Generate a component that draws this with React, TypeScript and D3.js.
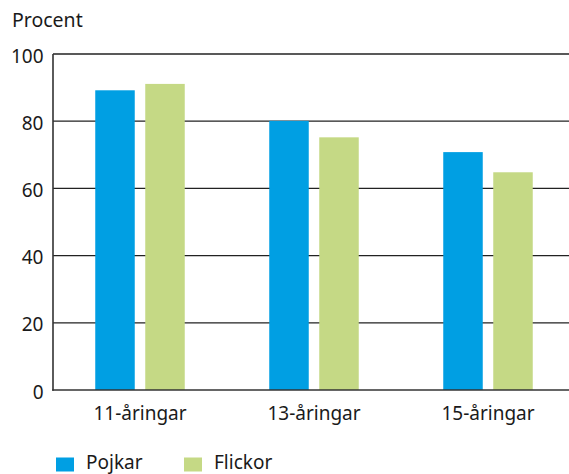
import React from "react";
import * as d3 from "d3";

const categories = ["11-åringar", "13-åringar", "15-åringar"];
const seriesNames = ["Pojkar", "Flickor"];
const pojkar = [89.2, 80.1, 70.8];
const flickor = [91.1, 75.2, 64.8];
const yTicks = [0, 20, 40, 60, 80, 100];
const yLabel = "Procent";

const colors = ["#009FE3", "#C5D985"];
const W = 569;
const H = 474;
const FONT = "'Noto Sans', Roboto, sans-serif";

export default function App() {
  const x = d3.scaleBand<string>().domain(categories).range([53, 575]).padding(0);
  const inner = d3
    .scaleBand<string>()
    .domain(seriesNames)
    .range([-44.75, 44.75])
    .paddingInner(0.21)
    .paddingOuter(0);
  const y = d3.scaleLinear().domain([0, 100]).range([390, 54]);
  const values = [pojkar, flickor];

  return (
    <svg
      width={W}
      height={H}
      style={{ position: "absolute", left: 0, top: 0 }}
      fontFamily={FONT}
    >
      <text x={12} y={27} fontSize={19.5} fill="#1a1a1a">
        {yLabel}
      </text>
      {yTicks.map((t) => (
        <g key={t}>
          {t > 0 && (
            <line x1={53} x2={W} y1={y(t)} y2={y(t)} stroke="#222" strokeWidth={1.3} />
          )}
          <text
            x={43.5}
            y={y(t) + 8.5}
            textAnchor="end"
            fontSize={19}
            fill="#1a1a1a"
          >
            {t}
          </text>
        </g>
      ))}
      {categories.map((c, i) => {
        const cx = (x(c) as number) + x.bandwidth() / 2;
        return (
          <g key={c}>
            {seriesNames.map((s, j) => (
              <rect
                key={s}
                x={cx + (inner(s) as number)}
                width={inner.bandwidth()}
                y={y(values[j][i])}
                height={y(0) - y(values[j][i])}
                fill={colors[j]}
              />
            ))}
            <text x={cx} y={420} textAnchor="middle" fontSize={19} fill="#1a1a1a">
              {c}
            </text>
          </g>
        );
      })}
      <line x1={53} x2={53} y1={54} y2={390.7} stroke="#333" strokeWidth={1.6} />
      <line x1={52.2} x2={W} y1={390} y2={390} stroke="#333" strokeWidth={1.6} />
      {seriesNames.map((s, j) => {
        const lx = 56 + j * 128;
        return (
          <g key={s}>
            <rect x={lx} y={457.5} width={18} height={14} fill={colors[j]} />
            <text x={lx + 30} y={468.5} fontSize={19} fill="#1a1a1a">
              {s}
            </text>
          </g>
        );
      })}
    </svg>
  );
}
